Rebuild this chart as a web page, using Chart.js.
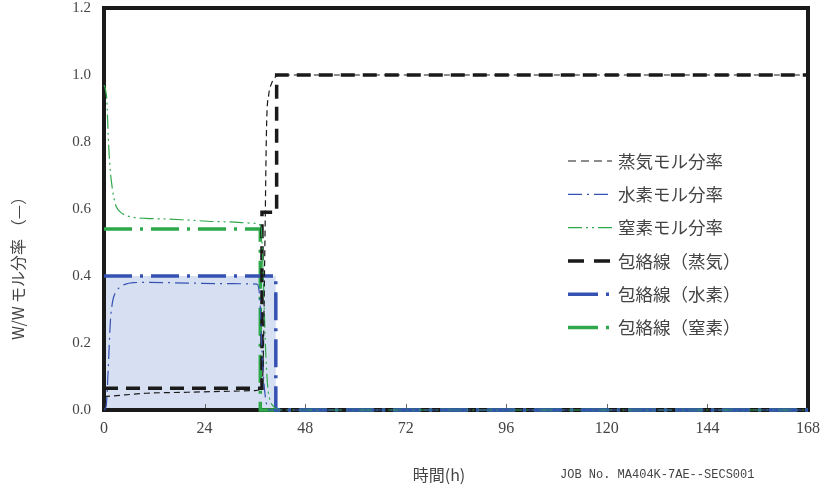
<!DOCTYPE html>
<html>
<head>
<meta charset="utf-8">
<script src="https://cdn.jsdelivr.net/npm/chart.js@4.4.1/dist/chart.umd.min.js"></script>
<style>
  html, body { margin: 0; padding: 0; background: #fff; }
  #wrap { width: 820px; height: 490px; }
</style>
</head>
<body>
<div id="wrap"><canvas id="moleChart" width="820" height="490"></canvas></div>
<script>
// tick labels
const xTickValues = [0, 24, 48, 72, 96, 120, 144, 168];
const yTickValues = [0.0, 0.2, 0.4, 0.6, 0.8, 1.0, 1.2];

// series labels
const seriesLabels = ['蒸気モル分率', '水素モル分率', '窒素モル分率', '包絡線（蒸気）', '包絡線（水素）', '包絡線（窒素）'];

// steam mole fraction (thin dashed)
const steamT = [0, 5, 10, 20, 30, 36, 37.5, 38, 38.4, 38.8, 39.3, 40, 41, 42, 168];
const steamY = [0.04, 0.045, 0.05, 0.053, 0.056, 0.058, 0.065, 0.15, 0.5, 0.85, 0.94, 0.975, 0.995, 1.0, 1.0];

// hydrogen mole fraction (thin dash-dot)
const h2T = [0, 0.5, 1, 1.5, 2, 3, 4, 5, 7, 10, 20, 30, 36.5, 37.2, 37.8, 38.5, 39.5, 168];
const h2Y = [0, 0.01, 0.12, 0.26, 0.32, 0.355, 0.368, 0.375, 0.38, 0.381, 0.379, 0.377, 0.376, 0.33, 0.15, 0.04, 0, 0];

// nitrogen mole fraction (thin dash-dot-dot)
const n2T = [0, 0.3, 0.7, 1, 1.4, 2, 2.5, 3, 4, 5, 7, 10, 15, 20, 28, 36.5, 37.5, 38, 38.5, 39, 39.5, 40.5, 42, 168];
const n2Y = [0.97, 0.96, 0.92, 0.82, 0.73, 0.66, 0.625, 0.605, 0.59, 0.582, 0.575, 0.572, 0.57, 0.567, 0.562, 0.557, 0.545, 0.4, 0.2, 0.08, 0.035, 0.01, 0, 0];

// envelopes
const steamEnvT = [0, 37.7, 37.7, 41.2, 41.2, 168];
const steamEnvY = [0.065, 0.065, 0.59, 0.59, 1.0, 1.0];
const h2EnvT = [0, 41, 41, 168];
const h2EnvY = [0.4, 0.4, 0, 0];
const n2EnvT = [0, 37.3, 37.3, 168];
const n2EnvY = [0.54, 0.54, 0, 0];

const BLACK = '#1a1a1a';
const BLUE = '#3551b2';
const GREEN = '#2fa84b';
const FILL = '#d7e0f2';

function pts(t, y) {
    return t.map((v, i) => ({ x: v, y: y[i] }));
}

// frame, inner ticks and axis titles
const framePlugin = {
    id: 'frame',
    beforeDatasetsDraw(chart) {
        const { ctx, chartArea: a, scales } = chart;
        ctx.save();
        ctx.strokeStyle = BLACK;
        ctx.lineWidth = 4;
        ctx.strokeRect(a.left, a.top, a.right - a.left, a.bottom - a.top);
        ctx.lineWidth = 1;
        ctx.strokeStyle = '#666';
        xTickValues.forEach(v => {
            if (v === 0 || v === 168) return;
            const px = Math.round(scales.x.getPixelForValue(v)) + 0.5;
            ctx.beginPath();
            ctx.moveTo(px, a.bottom - 2);
            ctx.lineTo(px, a.bottom - 6);
            ctx.stroke();
        });
        ctx.restore();
    },
    afterDraw(chart) {
        const { ctx } = chart;
        ctx.save();
        ctx.fillStyle = '#444';
        // y title, drawn in three pieces along the rotated axis
        ctx.translate(18, 0);
        ctx.rotate(-Math.PI / 2);
        ctx.font = '16px "Noto Sans CJK JP"';
        ctx.textAlign = 'center';
        ctx.textBaseline = 'middle';
        ctx.fillText('W/W', -323, 0);
        ctx.fillText('モル分率', -271, 0);
        ctx.fillText('（—）', -212, 0);
        ctx.restore();

        ctx.save();
        ctx.fillStyle = '#444';
        ctx.textBaseline = 'middle';
        ctx.textAlign = 'center';
        ctx.font = '16px "Noto Sans CJK JP"';
        ctx.fillText('時間(h)', 439, 475);
        ctx.textAlign = 'left';
        ctx.font = '12px "Liberation Mono"';
        ctx.fillText('JOB No. MA404K-7AE--SECS001', 560, 475);

        // legend inside the plot
        const x0 = 568, x1 = 612, tx = 618, y0 = 161, dy = 33.3;
        chart.data.datasets.forEach((ds, i) => {
            const y = y0 + i * dy;
            ctx.save();
            ctx.strokeStyle = ds.borderColor;
            ctx.lineWidth = ds.borderWidth;
            ctx.setLineDash(ds.legendDash || ds.borderDash || []);
            ctx.beginPath();
            ctx.moveTo(x0, y);
            ctx.lineTo(x1, y);
            ctx.stroke();
            ctx.restore();
            ctx.font = '17.5px "Noto Sans CJK JP"';
            ctx.fillStyle = '#444';
            ctx.textAlign = 'left';
            ctx.fillText(ds.label, tx, y);
        });
        ctx.restore();
    }
};

document.addEventListener('DOMContentLoaded', function() {
    const ctx = document.getElementById('moleChart').getContext('2d');
    new Chart(ctx, {
        type: 'line',
        data: {
            datasets: [{
                label: seriesLabels[0],
                data: pts(steamT, steamY),
                borderColor: BLACK,
                borderWidth: 1.2,
                borderDash: [6, 4],
                legendDash: [8, 5],
                cubicInterpolationMode: 'monotone',
                order: 1
            }, {
                label: seriesLabels[1],
                data: pts(h2T, h2Y),
                borderColor: BLUE,
                borderWidth: 1.2,
                borderDash: [14, 5, 2, 5],
                cubicInterpolationMode: 'monotone',
                order: 2
            }, {
                label: seriesLabels[2],
                data: pts(n2T, n2Y),
                borderColor: GREEN,
                borderWidth: 1.2,
                borderDash: [14, 4, 2, 4, 2, 4],
                cubicInterpolationMode: 'monotone',
                order: 3
            }, {
                label: seriesLabels[3],
                data: pts(steamEnvT, steamEnvY),
                borderColor: BLACK,
                borderWidth: 3.5,
                borderDash: [14, 8],
                legendDash: [16, 10],
                tension: 0,
                order: 4
            }, {
                label: seriesLabels[4],
                data: pts(h2EnvT, h2EnvY),
                borderColor: BLUE,
                borderWidth: 3.5,
                borderDash: [28, 8, 3, 8],
                legendDash: [30, 8, 3, 8],
                fill: 'origin',
                backgroundColor: FILL,
                tension: 0,
                order: 5
            }, {
                label: seriesLabels[5],
                data: pts(n2EnvT, n2EnvY),
                borderColor: GREEN,
                borderWidth: 3.5,
                borderDash: [28, 8, 3, 8],
                legendDash: [30, 8, 3, 8],
                tension: 0,
                order: 6
            }]
        },
        options: {
            responsive: false,
            animation: false,
            clip: false,
            layout: { padding: { top: 8, right: 12, left: 0, bottom: 0 } },
            elements: { point: { radius: 0 } },
            scales: {
                x: {
                    type: 'linear',
                    min: 0,
                    max: 168,
                    afterBuildTicks: s => { s.ticks = xTickValues.map(v => ({ value: v })); },
                    afterFit: s => {
                        s.height = 80;
                        s.paddingLeft = 0;
                        s.paddingRight = 0;
                    },
                    ticks: {
                        font: { family: '"Liberation Serif"', size: 16 },
                        color: '#444',
                        padding: 9,
                        maxRotation: 0,
                        autoSkip: false
                    },
                    grid: { display: false, drawTicks: false },
                    border: { display: false }
                },
                y: {
                    min: 0,
                    max: 1.2,
                    afterBuildTicks: s => { s.ticks = yTickValues.map(v => ({ value: v })); },
                    afterFit: s => {
                        s.width = 104;
                        s.paddingTop = 0;
                        s.paddingBottom = 0;
                    },
                    ticks: {
                        font: { family: '"Liberation Serif"', size: 15 },
                        color: '#444',
                        padding: 13,
                        callback: v => v.toFixed(1)
                    },
                    grid: { display: false, drawTicks: false },
                    border: { display: false }
                }
            },
            plugins: {
                legend: { display: false },
                tooltip: { enabled: false },
                filler: { drawTime: 'beforeDatasetsDraw' }
            }
        },
        plugins: [framePlugin]
    });
});
</script>
</body>
</html>
